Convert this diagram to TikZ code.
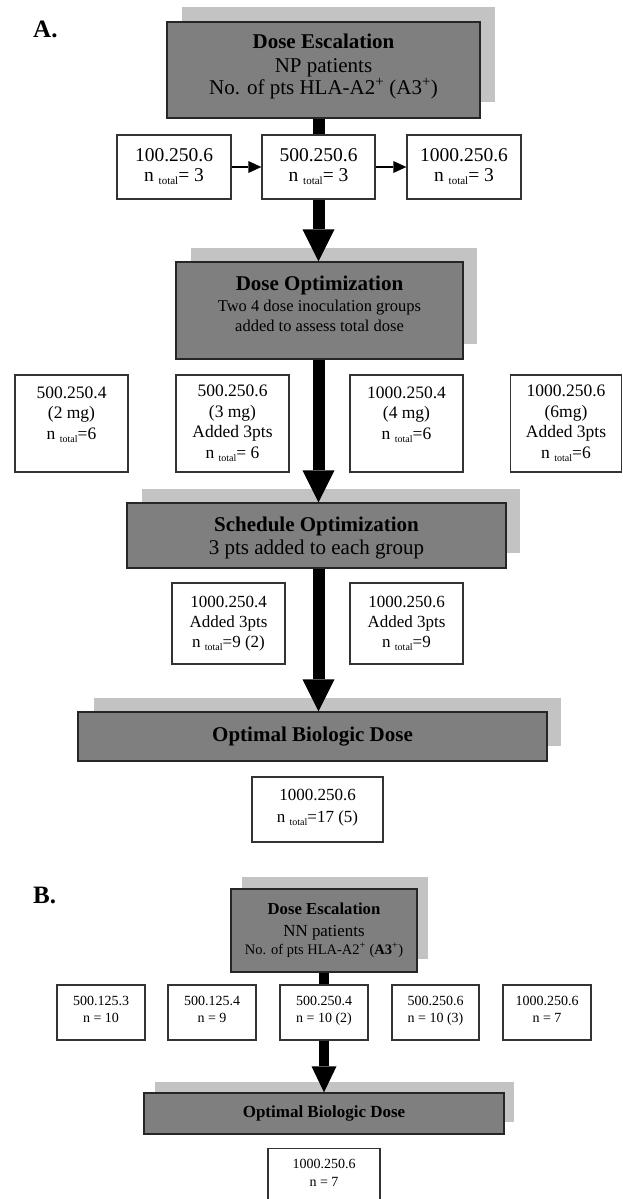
\documentclass[tikz,border=0pt]{standalone}
\usepackage{fontspec}
\setmainfont{Liberation Serif}
\usetikzlibrary{arrows.meta}
\definecolor{boxgray}{HTML}{7F7F7F}
\definecolor{shadowgray}{HTML}{C3C3C3}
\newcommand\nt[1]{n\hspace{0.25em}{\fontsize{#1}{#1}\selectfont\raisebox{-0.3em}{total}}}
\newcommand\tb[2][0pt]{\raisebox{#1}[\height][\depth]{\begin{tabular}{@{}c@{}}#2\end{tabular}}}
\tikzset{
  mainbox/.style={draw=black!85, line width=1.4pt, fill=boxgray, inner sep=0pt},
  smallbox/.style={draw=black!80, line width=1.3pt, fill=white, inner sep=0pt},
  shadowbox/.style={fill=shadowgray},
  thickline/.style={line width=12pt},
  thickarrow/.style={line width=12pt, -{Triangle[width=32pt,length=32pt,line width=0pt]}},
  thinarrow/.style={line width=1.5pt, -{Triangle[width=12pt,length=13pt,line width=0pt]}},
  thicklineB/.style={line width=10pt},
  thickarrowB/.style={line width=10pt, -{Triangle[width=25pt,length=26pt,line width=0pt]}},
  panel/.style={font=\fontsize{25}{25}\selectfont\bfseries, anchor=base west, inner sep=0pt}
}
\begin{document}
\begin{tikzpicture}[x=1pt,y=-1pt]
\useasboundingbox (0,0) rectangle (623,1199);

% ---------------- Panel A ----------------
\node[panel] (labA) at (33,38) {A.};

\fill[shadowbox] (182,7) rectangle (495,102);
\node[mainbox, minimum width=313pt, minimum height=96pt, font=\fontsize{21}{19}\selectfont] (m1) at (323.5,70)
  {\tb[3pt]{\textbf{Dose Escalation}\\[5pt] NP patients\\ No. of pts HLA-A2\textsuperscript{+} (A3\textsuperscript{+})}};

\node[smallbox, minimum width=114pt, minimum height=64pt, font=\fontsize{19.5}{20}\selectfont] (b11) at (174,167)
  {\tb{100.250.6\\ \nt{11}= 3}};
\node[smallbox, minimum width=113pt, minimum height=64pt, font=\fontsize{19.5}{20}\selectfont] (b12) at (318.5,167)
  {\tb{500.250.6\\ \nt{11}= 3}};
\node[smallbox, minimum width=114pt, minimum height=64pt, font=\fontsize{19.5}{20}\selectfont] (b13) at (464,167)
  {\tb{1000.250.6\\ \nt{11}= 3}};

\fill[shadowbox] (191,248) rectangle (477,344);
\node[mainbox, minimum width=287pt, minimum height=97pt, font=\fontsize{16.5}{20}\selectfont] (m2) at (319.5,310.5)
  {\tb[4pt]{{\fontsize{21}{21}\selectfont\bfseries Dose Optimization}\\[1.5pt] Two 4 dose inoculation groups\\ added to assess total dose}};

\node[smallbox, minimum width=113pt, minimum height=97pt, font=\fontsize{17.5}{20.5}\selectfont] (b21) at (71.5,423.5)
  {\tb[9pt]{500.250.4\\ (2 mg)\\ \nt{10}=6}};
\node[smallbox, minimum width=113pt, minimum height=97pt, font=\fontsize{17.5}{20.5}\selectfont] (b22) at (232.5,423.5)
  {\tb{500.250.6\\ (3 mg)\\ Added 3pts\\ \nt{10}= 6}};
\node[smallbox, minimum width=113pt, minimum height=97pt, font=\fontsize{17.5}{20.5}\selectfont] (b23) at (406.5,423.5)
  {\tb[9pt]{1000.250.4\\ (4 mg)\\ \nt{10}=6}};
\node[smallbox, minimum width=111pt, minimum height=97pt, font=\fontsize{17.5}{20.5}\selectfont] (b24) at (566,423.5)
  {\tb{1000.250.6\\ (6mg)\\ Added 3pts\\ \nt{10}=6}};

\fill[shadowbox] (142,489) rectangle (520,553);
\node[mainbox, minimum width=379pt, minimum height=65pt, font=\fontsize{21}{23}\selectfont] (m3) at (316.5,535.5)
  {\tb[-3pt]{\textbf{Schedule Optimization}\\ 3 pts added to each group}};

\node[smallbox, minimum width=113pt, minimum height=81pt, font=\fontsize{17}{20}\selectfont] (b31) at (228.5,623.5)
  {\tb{1000.250.4\\ Added 3pts\\ \nt{10}=9 (2)}};
\node[smallbox, minimum width=113pt, minimum height=81pt, font=\fontsize{17}{20}\selectfont] (b32) at (406.5,623.5)
  {\tb{1000.250.6\\ Added 3pts\\ \nt{10}=9}};

\fill[shadowbox] (94,698) rectangle (561,746);
\node[mainbox, minimum width=469pt, minimum height=49pt, font=\fontsize{21}{23}\selectfont\bfseries] (m4) at (312.5,736.5)
  {Optimal Biologic Dose};

\node[smallbox, minimum width=131pt, minimum height=65pt, font=\fontsize{17}{22}\selectfont] (bfin) at (317.5,809.5)
  {\tb[2pt]{1000.250.6\\ \nt{10}=17 (5)}};

% connectors A
\draw[thickline] (m1.south -| b12) -- (b12.north);
\draw[thinarrow] (b11.east) -- (b12.west);
\draw[thinarrow] (b12.east) -- (b13.west);
\draw[thickarrow] (b12.south) -- (m2.north -| b12);
\draw[thickarrow] (m2.south -| b12) -- (m3.north -| b12);
\draw[thickarrow] (m3.south -| b12) -- (m4.north -| b12);

% ---------------- Panel B ----------------
\node[panel] (labB) at (33,903) {B.};

\fill[shadowbox] (242,877) rectangle (428,959);
\node[mainbox, minimum width=186pt, minimum height=83pt, font=\fontsize{16.9}{18}\selectfont] (n1) at (324,930.5)
  {\tb{{\fontsize{16.7}{16.7}\selectfont\bfseries Dose Escalation}\\[4pt] NN patients\\ {\fontsize{14.5}{14.5}\selectfont No. of pts HLA-A2\textsuperscript{+} (\textbf{A3}\textsuperscript{+})}}};

\node[smallbox, minimum width=88pt, minimum height=55pt, font=\fontsize{14}{17}\selectfont] (c1) at (101,1012.5)
  {\tb[1.5pt]{500.125.3\\ n = 10}};
\node[smallbox, minimum width=88pt, minimum height=55pt, font=\fontsize{14}{17}\selectfont] (c2) at (212,1012.5)
  {\tb[1.5pt]{500.125.4\\ n = 9}};
\node[smallbox, minimum width=88pt, minimum height=55pt, font=\fontsize{14}{17}\selectfont] (c3) at (324,1012.5)
  {\tb[1.5pt]{500.250.4\\ n = 10 (2)}};
\node[smallbox, minimum width=87pt, minimum height=55pt, font=\fontsize{14}{17}\selectfont] (c4) at (435.5,1012.5)
  {\tb[1.5pt]{500.250.6\\ n = 10 (3)}};
\node[smallbox, minimum width=88pt, minimum height=55pt, font=\fontsize{14}{17}\selectfont] (c5) at (547,1012.5)
  {\tb[1.5pt]{1000.250.6\\ n = 7}};

\fill[shadowbox] (155,1082) rectangle (514,1122);
\node[mainbox, minimum width=360pt, minimum height=41pt, font=\fontsize{17}{19}\selectfont\bfseries] (n2) at (324,1113.5)
  {Optimal Biologic Dose};

\node[smallbox, minimum width=112pt, minimum height=51pt, font=\fontsize{14}{18}\selectfont] (cfin) at (324,1174)
  {\tb{1000.250.6\\ n = 7}};

% connectors B
\draw[thicklineB] (n1.south -| c3) -- (c3.north);
\draw[thickarrowB] (c3.south) -- (n2.north -| c3);
\end{tikzpicture}
\end{document}
